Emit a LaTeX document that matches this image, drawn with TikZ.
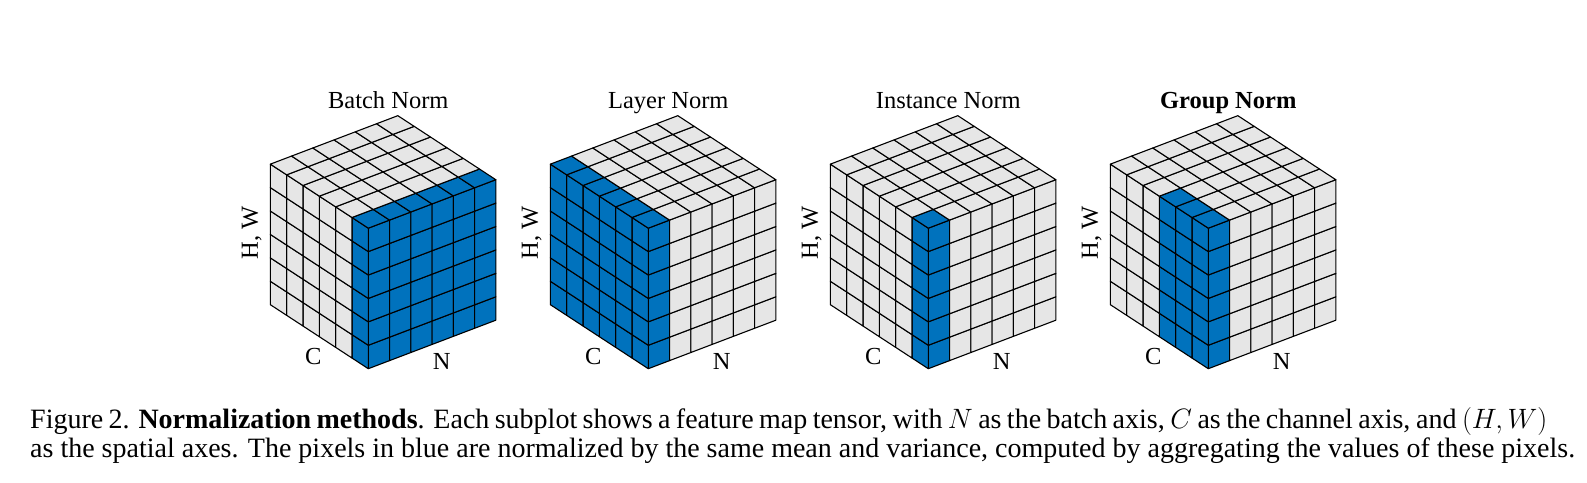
\RequirePackage{fix-cm}
\documentclass[tikz,border=0pt]{standalone}
\usepackage{fontspec}
\setmainfont{Liberation Serif}
\definecolor{nblue}{RGB}{0,114,189}
\definecolor{ngrey}{RGB}{230,230,230}
\tikzset{
 cellbox/.style={draw=black, line width=1.1pt, line join=round},
 lbl/.style={inner sep=0pt, font=\fontsize{24.5}{28}\selectfont},
 captxt/.style={inner sep=0pt, font=\fontsize{28}{32}\selectfont},
}
\newcommand{\normcube}[5]{%
 \begin{scope}[shift={(#1,113.3)}, x={(21.25pt,8.08pt)}, y={(-16.33pt,10.67pt)}, z={(0pt,23.42pt)}]
  \foreach \n in {0,...,5}{\foreach \h in {0,...,5}{%
   \ifnum\n<#2\relax\def\fc{nblue}\else\def\fc{ngrey}\fi
   \filldraw[cellbox, fill=\fc] (\n,0,\h) -- (\n+1,0,\h) -- (\n+1,0,\h+1) -- (\n,0,\h+1) -- cycle;}}
  \foreach \c in {0,...,5}{\foreach \h in {0,...,5}{%
   \ifnum\c<#3\relax\def\fc{nblue}\else\def\fc{ngrey}\fi
   \filldraw[cellbox, fill=\fc] (0,\c,\h) -- (0,\c+1,\h) -- (0,\c+1,\h+1) -- (0,\c,\h+1) -- cycle;}}
  \foreach \n in {0,...,5}{\foreach \c in {0,...,5}{%
   \def\fc{ngrey}%
   \ifnum\n<#2\relax\ifnum\c<#3\relax\def\fc{nblue}\fi\fi
   \filldraw[cellbox, fill=\fc] (\n,\c,6) -- (\n+1,\c,6) -- (\n+1,\c+1,6) -- (\n,\c+1,6) -- cycle;}}
 \end{scope}
 \node[lbl, anchor=base] (t#4) at (#1+20, 373.7) {#5};
 \node[lbl] (c#4) at (#1-55, 125) {C};
 \node[lbl] (n#4) at (#1+73.5, 121) {N};
 \node[lbl, rotate=90] (hw#4) at (#1-116.6, 249) {H, W};
}
\begin{document}
\begin{tikzpicture}[x=1pt, y=1pt]
\path[use as bounding box, fill=white] (0,0) rectangle (1587,482);
\normcube{368.3}{6}{1}{a}{Batch Norm}
\normcube{648.3}{1}{6}{b}{Layer Norm}
\normcube{928.3}{1}{1}{c}{Instance Norm}
\normcube{1208.3}{1}{3}{d}{\textbf{Group Norm}}
\node[captxt, anchor=base west] (cap1) at (30,53.7) {\hbox to 1517pt{Figure 2. \textbf{Normalization methods}. Each subplot shows a feature map tensor, with $N$ as the batch axis, $C$ as the channel axis, and $(H,W)$}};
\node[captxt, anchor=base west] (cap2) at (30,24.7) {as the spatial axes. The pixels in blue are normalized by the same mean and variance, computed by aggregating the values of these pixels.};
\end{tikzpicture}
\end{document}
